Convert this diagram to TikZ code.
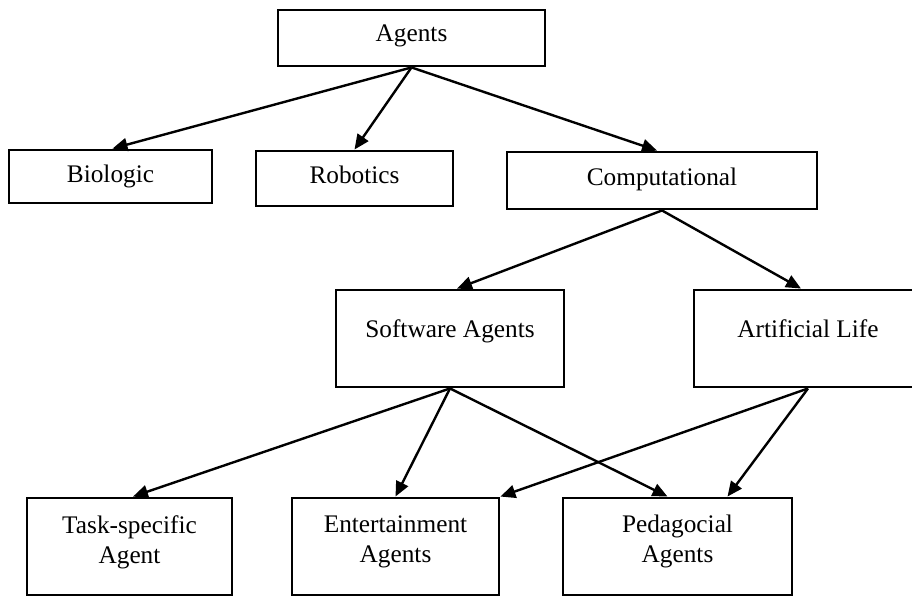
\documentclass[tikz,border=0pt]{standalone}
\usepackage{fontspec}
\setmainfont{Liberation Serif}
\usetikzlibrary{arrows.meta}
\begin{document}
\begin{tikzpicture}[x=1pt,y=-1pt,
  box/.style={draw, line width=2.9pt, inner sep=0pt},
  lbl/.style={anchor=base, inner sep=0pt, font=\fontsize{25.3pt}{30pt}\selectfont},
  lbl2/.style={anchor=north, inner sep=0pt, align=center, font=\fontsize{25.3pt}{30pt}\selectfont},
  arr/.style={line width=2.4pt, -{Triangle[length=15pt,width=13pt]}}]
\useasboundingbox (0,0) rectangle (912,597);

% boxes
\node[box, minimum width=267pt, minimum height=56pt] (agents) at (411.5,38) {};
\node[box, minimum width=203pt, minimum height=53pt] (bio) at (110.5,176.5) {};
\node[box, minimum width=197pt, minimum height=55pt] (rob) at (354.5,178.5) {};
\node[box, minimum width=310pt, minimum height=57pt] (comp) at (662,180.5) {};
\node[box, minimum width=228pt, minimum height=97pt] (sw) at (450,338.5) {};
\node[box, minimum width=228pt, minimum height=97pt] (al) at (808,338.5) {};
\node[box, minimum width=205pt, minimum height=97pt] (task) at (129.5,546.5) {};
\node[box, minimum width=207pt, minimum height=97pt] (ent) at (395.5,546.5) {};
\node[box, minimum width=229pt, minimum height=97pt] (ped) at (677.5,546.5) {};

% labels
\node[lbl] (agents-t) at (411.5,41) {Agents};
\node[lbl] (bio-t) at (110.5,182) {Biologic};
\node[lbl] (rob-t) at (354.5,183) {Robotics};
\node[lbl] (comp-t) at (662,185) {Computational};
\node[lbl] (sw-t) at (450,337) {Software Agents};
\node[lbl] (al-t) at (808,337) {Artificial Life};
\node[lbl2] (task-t) at (129.5,515) {Task-specific\\Agent};
\node[lbl2] (ent-t) at (395.5,516) {Entertainment\\Agents};
\node[lbl2] (ped-t) at (677.5,515) {Pedagocial\\Agents};

% connectors
\draw[arr] (agents.south) -- ([xshift=2pt]bio.north);
\draw[arr] (agents.south) -- (rob.north);
\draw[arr] (agents.south) -- ([xshift=-5pt]comp.north);
\draw[arr] (comp.south) -- ([xshift=7pt]sw.north);
\draw[arr] (comp.south) -- ([xshift=-7pt]al.north);
\draw[arr] (sw.south) -- ([xshift=3.5pt]task.north);
\draw[arr] (sw.south) -- (ent.north);
\draw[arr] (sw.south) -- ([xshift=-10pt]ped.north);
\draw[arr] (al.south) -- (ent.north east);
\draw[arr] (al.south) -- ([xshift=50pt]ped.north);
\end{tikzpicture}
\end{document}
